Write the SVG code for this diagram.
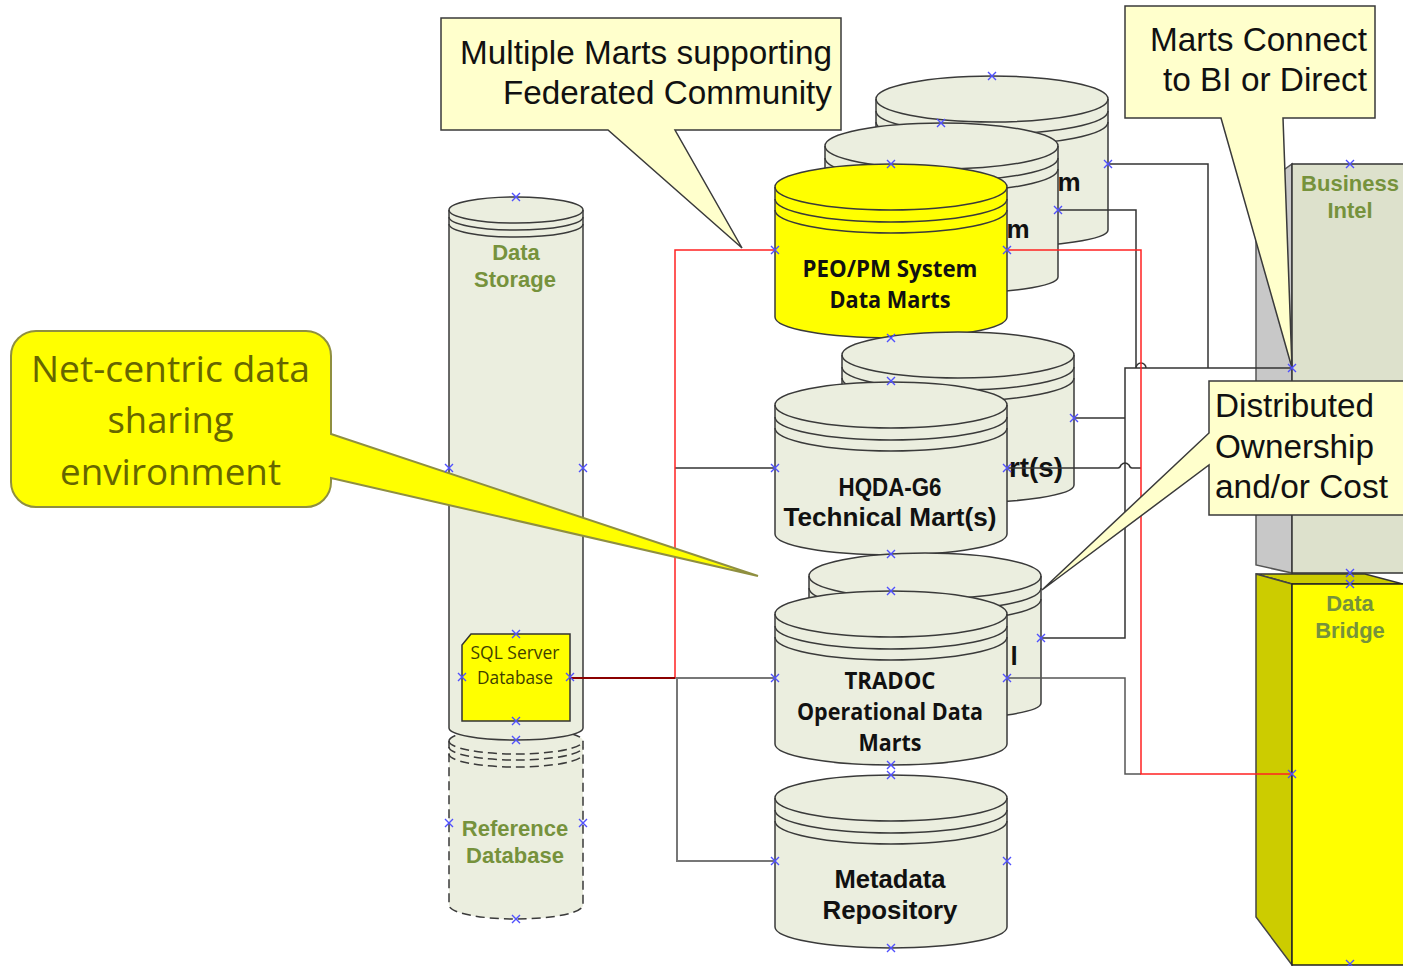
<svg xmlns="http://www.w3.org/2000/svg" xmlns:xlink="http://www.w3.org/1999/xlink" width="1403" height="966" viewBox="0 0 1403 966">
<style>
.cyl{fill:#ebeedf;stroke:#3a3a3a;stroke-width:1.5}
.cy{fill:#ffff00;stroke:#3a3a3a;stroke-width:1.5}
.ring{fill:none;stroke:#3a3a3a;stroke-width:1.5}
.dash{stroke-dasharray:9 5}
.call{fill:#ffffcc;stroke:#3a3a3a;stroke-width:1.5}
.t{font-family:"Liberation Sans",Arial,sans-serif;fill:#111;font-size:33px}
.b{font-family:"Liberation Sans",Arial,sans-serif;font-weight:bold;fill:#111;font-size:26px;text-anchor:middle}
.c{font-family:"Open Sans","Noto Sans",sans-serif;font-weight:700;fill:#111;font-size:23px;text-anchor:middle}
.g{font-family:"Liberation Sans",Arial,sans-serif;font-weight:bold;fill:#76923c;font-size:22px;text-anchor:middle}
.n{font-family:"Open Sans","Noto Sans",sans-serif;fill:#666600;font-size:36px;text-anchor:middle}
.s{font-family:"Open Sans","Noto Sans",sans-serif;fill:#3f3f00;font-size:19px;text-anchor:middle}
.k{fill:none;stroke:#333;stroke-width:1.5}
.gr{fill:none;stroke:#777;stroke-width:2}
.r{fill:none;stroke:#ff2222;stroke-width:1.5}
.x{fill:none;stroke:#5050ff;stroke-width:1.4}
</style>
<defs><path id="x" class="x" d="M-4-4L4 4M-4 4L4-4"/></defs>
<rect width="1403" height="966" fill="#fff"/>

<g id="business-intel">
<polygon points="1256,190 1292,164 1292,573 1256,565" fill="#c8c8c8" stroke="#555" stroke-width="1.500"/>
<rect x="1292" y="164" width="120" height="409" fill="#dde1cc" stroke="#333" stroke-width="1.5"/>
<text class="g" x="1350" y="191">Business</text>
<text class="g" x="1350" y="218">Intel</text>
</g>
<g id="data-bridge">
<polygon points="1256,574 1365,574 1403,584 1403,584 1292,584" fill="#cccc00" stroke="#333" stroke-width="1.5"/>
<polygon points="1256,574 1292,584 1292,965 1256,917" fill="#cccc00" stroke="#444" stroke-width="1.5"/>
<rect x="1292" y="584" width="120" height="381" fill="#ffff00" stroke="#222" stroke-width="1.5"/>
<text class="g" x="1350" y="611">Data</text>
<text class="g" x="1350" y="638">Bridge</text>
</g>

<g id="reference-database">
<path class="cyl dash" d="M449 741A67 13 0 0 1 583 741V905A67 14 0 0 1 449 905Z"/>
<path class="ring dash" d="M449 741A67 13 0 0 0 583 741M449 747A67 13 0 0 0 583 747M449 754A67 13 0 0 0 583 754"/>
<text class="g" x="515" y="836">Reference</text>
<text class="g" x="515" y="863">Database</text>
</g>
<g id="data-storage">
<path class="cyl" d="M449 210A67 13 0 0 1 583 210V728A67 12 0 0 1 449 728Z"/>
<path class="ring" d="M449 210A67 13 0 0 0 583 210M449 217A67 13 0 0 0 583 217M449 224A67 13 0 0 0 583 224"/>
<text class="g" x="516" y="260">Data</text>
<text class="g" x="515" y="287">Storage</text>
</g>
<g id="sql-server-database">
<polygon points="471,634 570,634 570,721 462,721 462,645" fill="#ffff00" stroke="#333" stroke-width="1.5"/>
<text class="s" x="515" y="659" textLength="89" lengthAdjust="spacingAndGlyphs">SQL Server</text>
<text class="s" x="515" y="684" textLength="76" lengthAdjust="spacingAndGlyphs">Database</text>
</g>

<g id="mart-back-1">
<path class="cyl" d="M876 99A116 23 0 0 1 1108 99V230A116 17 0 0 1 876 230Z"/>
<path class="ring" d="M876 99A116 23 0 0 0 1108 99M876 111A116 23 0 0 0 1108 111M876 122A116 23 0 0 0 1108 122"/>
<text class="b" x="1069" y="191">m</text>
</g>
<g id="mart-back-2">
<path class="cyl" d="M825 146A116.500 23 0 0 1 1058 146V277A116.500 17 0 0 1 825 277Z"/>
<path class="ring" d="M825 146A116.500 23 0 0 0 1058 146M825 158A116.500 23 0 0 0 1058 158M825 169A116.500 23 0 0 0 1058 169"/>
<text class="b" x="1018" y="238">m</text>
</g>
<g id="peo-pm-system">
<path class="cy" d="M775 187A116 23 0 0 1 1007 187V317A116 21 0 0 1 775 317Z"/>
<path class="ring" d="M775 187A116 23 0 0 0 1007 187M775 199A116 23 0 0 0 1007 199M775 210A116 23 0 0 0 1007 210"/>
<text class="c" x="890" y="277" textLength="175" lengthAdjust="spacingAndGlyphs">PEO/PM System</text>
<text class="c" x="890" y="308" textLength="121" lengthAdjust="spacingAndGlyphs">Data Marts</text>
</g>
<g id="mart-back-3">
<path class="cyl" d="M842 355A116 23 0 0 1 1074 355V485A116 18 0 0 1 842 485Z"/>
<path class="ring" d="M842 355A116 23 0 0 0 1074 355M842 367A116 23 0 0 0 1074 367M842 378A116 23 0 0 0 1074 378"/>
<text class="b" style="text-anchor:start;font-size:27px" x="1009" y="477" textLength="54" lengthAdjust="spacingAndGlyphs">rt(s)</text>
</g>
<g id="hqda-g6">
<path class="cyl" d="M775 405A116 23 0 0 1 1007 405V534A116 21 0 0 1 775 534Z"/>
<path class="ring" d="M775 405A116 23 0 0 0 1007 405M775 417A116 23 0 0 0 1007 417M775 428A116 23 0 0 0 1007 428"/>
<text class="b" x="890" y="496" textLength="103" lengthAdjust="spacingAndGlyphs">HQDA-G6</text>
<text class="b" x="890" y="526" textLength="213" lengthAdjust="spacingAndGlyphs">Technical Mart(s)</text>
</g>
<g id="mart-back-4">
<path class="cyl" d="M809 576A116 23 0 0 1 1041 576V703A116 17 0 0 1 809 703Z"/>
<path class="ring" d="M809 576A116 23 0 0 0 1041 576M809 588A116 23 0 0 0 1041 588M809 599A116 23 0 0 0 1041 599"/>
<text class="b" x="1014" y="665">l</text>
</g>
<g id="tradoc">
<path class="cyl" d="M775 614A116 23 0 0 1 1007 614V744A116 21 0 0 1 775 744Z"/>
<path class="ring" d="M775 614A116 23 0 0 0 1007 614M775 626A116 23 0 0 0 1007 626M775 637A116 23 0 0 0 1007 637"/>
<text class="c" x="890" y="689" textLength="91" lengthAdjust="spacingAndGlyphs">TRADOC</text>
<text class="c" x="890" y="720" textLength="186" lengthAdjust="spacingAndGlyphs">Operational Data</text>
<text class="c" x="890" y="751" textLength="63" lengthAdjust="spacingAndGlyphs">Marts</text>
</g>
<g id="metadata-repository">
<path class="cyl" d="M775 798A116 23 0 0 1 1007 798V927A116 21 0 0 1 775 927Z"/>
<path class="ring" d="M775 798A116 23 0 0 0 1007 798M775 810A116 23 0 0 0 1007 810M775 821A116 23 0 0 0 1007 821"/>
<text class="b" x="890" y="888" textLength="111" lengthAdjust="spacingAndGlyphs">Metadata</text>
<text class="b" x="890" y="919" textLength="135" lengthAdjust="spacingAndGlyphs">Repository</text>
</g>

<g id="connectors">
<path class="k" d="M1108 164H1208V368"/>
<path class="k" d="M1058 210H1136V368"/>
<path class="k" d="M1146 368A5 5 0 0 0 1136 368"/>
<path class="k" d="M1292 368H1125V638H1041"/>
<path class="k" d="M1074 418H1125"/>
<path class="k" d="M1007 468H1118Q1120 468 1121 465Q1125 461 1129 465Q1130 468 1132 468H1141"/>
<path class="k" d="M775 468H675"/>
<path class="gr" style="stroke-width:1.500;stroke:#555" d="M1007 678H1125V774H1141"/>
<path class="gr" d="M570 678H775M677 678V861H775"/>
<path class="r" d="M775 250H675V678"/>
<path class="r" d="M1007 250H1141V774H1292"/>
<path fill="none" stroke="#8b0000" stroke-width="2" d="M570 678H675"/>
</g>

<g id="callout-marts-connect">
<path class="call" d="M1125 6H1375V118H1283L1292 368L1221 118H1125Z"/>
<text class="t" x="1367" y="51" text-anchor="end" textLength="217" lengthAdjust="spacingAndGlyphs">Marts Connect</text>
<text class="t" x="1367" y="91" text-anchor="end" textLength="204" lengthAdjust="spacingAndGlyphs">to BI or Direct</text>
</g>
<g id="callout-multiple-marts">
<path class="call" d="M441 18H841V130H675L742 248L608 130H441Z"/>
<text class="t" x="832" y="64" text-anchor="end" textLength="372" lengthAdjust="spacingAndGlyphs">Multiple Marts supporting</text>
<text class="t" x="832" y="104" text-anchor="end" textLength="329" lengthAdjust="spacingAndGlyphs">Federated Community</text>
</g>
<g id="callout-distributed">
<path class="call" d="M1209 381H1415V515H1209V465L1042 590L1209 433Z"/>
<text class="t" x="1215" y="417" textLength="159" lengthAdjust="spacingAndGlyphs">Distributed</text>
<text class="t" x="1215" y="458" textLength="159" lengthAdjust="spacingAndGlyphs">Ownership</text>
<text class="t" x="1215" y="498" textLength="173" lengthAdjust="spacingAndGlyphs">and/or Cost</text>
</g>
<g id="callout-net-centric">
<path d="M36 331H306A25 25 0 0 1 331 356V434L758 576L331 478V482A25 25 0 0 1 306 507H36A25 25 0 0 1 11 482V356A25 25 0 0 1 36 331Z" fill="#ffff00" stroke="#8f8f40" stroke-width="2"/>
<text class="n" x="170.500" y="382" textLength="279" lengthAdjust="spacingAndGlyphs">Net-centric data</text>
<text class="n" x="170.500" y="433" textLength="126" lengthAdjust="spacingAndGlyphs">sharing</text>
<text class="n" x="170.500" y="485" textLength="221" lengthAdjust="spacingAndGlyphs">environment</text>
</g>

<g id="handles">
<use xlink:href="#x" x="992" y="76"/><use xlink:href="#x" x="941" y="123"/><use xlink:href="#x" x="891" y="164"/>
<use xlink:href="#x" x="1108" y="164"/><use xlink:href="#x" x="1058" y="210"/><use xlink:href="#x" x="775" y="250"/><use xlink:href="#x" x="1007" y="250"/>
<use xlink:href="#x" x="891" y="338"/><use xlink:href="#x" x="891" y="381"/><use xlink:href="#x" x="1074" y="418"/>
<use xlink:href="#x" x="775" y="468"/><use xlink:href="#x" x="1007" y="468"/><use xlink:href="#x" x="891" y="554"/><use xlink:href="#x" x="891" y="591"/>
<use xlink:href="#x" x="1041" y="638"/><use xlink:href="#x" x="775" y="678"/><use xlink:href="#x" x="1007" y="678"/>
<use xlink:href="#x" x="891" y="765"/><use xlink:href="#x" x="891" y="775"/><use xlink:href="#x" x="775" y="861"/><use xlink:href="#x" x="1007" y="861"/><use xlink:href="#x" x="891" y="948"/>
<use xlink:href="#x" x="516" y="197"/><use xlink:href="#x" x="449" y="468"/><use xlink:href="#x" x="583" y="468"/>
<use xlink:href="#x" x="516" y="634"/><use xlink:href="#x" x="462" y="677"/><use xlink:href="#x" x="570" y="677"/><use xlink:href="#x" x="516" y="721"/><use xlink:href="#x" x="516" y="740"/>
<use xlink:href="#x" x="449" y="823"/><use xlink:href="#x" x="583" y="823"/><use xlink:href="#x" x="516" y="919"/>
<use xlink:href="#x" x="1350" y="164"/><use xlink:href="#x" x="1292" y="368"/><use xlink:href="#x" x="1350" y="573"/><use xlink:href="#x" x="1350" y="584"/><use xlink:href="#x" x="1292" y="774"/><use xlink:href="#x" x="1350" y="964"/>
</g>
</svg>
